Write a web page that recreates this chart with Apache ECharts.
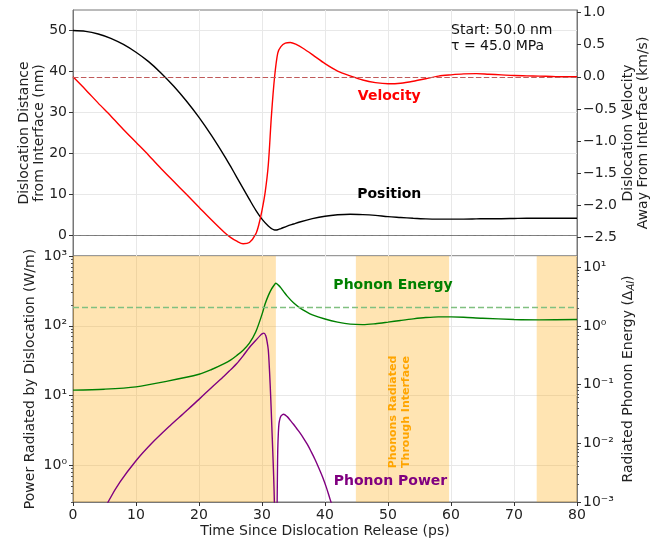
<!DOCTYPE html>
<html>
<head>
<meta charset="utf-8">
<script src="https://cdn.jsdelivr.net/npm/echarts@6/dist/echarts.min.js"></script>
<style>html,body{margin:0;padding:0;background:#fff}#main{width:663px;height:545px}</style>
</head>
<body>
<div id="main"></div>
<script>
// ---- data ----
var timePos = [0,2,4,6,8,10,12,14,16,18,20,22,24,25,26,27,28,29,30,31,31.5,32,32.5,33,34,35,36,38,40,42,44,46,48,50,52,54,56,58,60,62,64,66,68,70,72,74,76,78,80];
var position = [50,49.8,49.15,48.1,46.6,44.7,42.4,39.6,36.4,32.8,28.8,24.35,19.5,16.9,14.2,11.5,8.8,6.2,4.0,2.3,1.7,1.35,1.4,1.7,2.3,2.8,3.3,4.1,4.7,5.05,5.2,5.1,4.9,4.6,4.4,4.2,4.05,4.0,4.0,4.0,4.05,4.1,4.1,4.15,4.2,4.2,4.2,4.2,4.2];

var timeVel = [0,2,4,6,8,10,12,14,16,18,20,22,24,25,26,27,28,29,29.5,30,30.5,31,31.5,32,32.5,33,33.7,34.5,35.5,36.5,38,40,42,44,46,48,50,52,54,56,58,60,62,64,66,68,70,72,74,76,78,80];
var velocity = [0,-0.20,-0.41,-0.61,-0.82,-1.02,-1.22,-1.43,-1.63,-1.83,-2.03,-2.23,-2.42,-2.50,-2.56,-2.60,-2.58,-2.45,-2.30,-2.08,-1.80,-1.37,-0.60,0.0,0.37,0.47,0.525,0.535,0.50,0.445,0.345,0.205,0.09,0.015,-0.05,-0.09,-0.108,-0.10,-0.07,-0.03,0.01,0.03,0.045,0.05,0.04,0.03,0.02,0.015,0.01,0.005,0,0];

var timeEnergy = [0,5,10,15,20,22,24,25,26,27,28,29,30,30.5,31,31.5,32,32.2,32.6,33,33.5,34,35,36,37,38,40,42,44,46,48,50,52,54,56,58,60,62,65,70,74,80];
var energy = [0.081,0.084,0.092,0.115,0.151,0.182,0.229,0.263,0.316,0.389,0.513,0.794,1.585,2.40,3.31,4.27,5.13,5.37,5.0,4.5,3.8,3.25,2.5,2.05,1.76,1.55,1.32,1.17,1.08,1.06,1.10,1.17,1.25,1.33,1.40,1.44,1.44,1.42,1.36,1.30,1.28,1.30];

var timePower = [4,5.7,7.5,10,12.5,15.4,17.5,20,22,24,25,26,27,28,29,29.7,30.0,30.3,30.6,30.8,31.0,31.2,31.4,31.55,31.7,31.85,31.96,32.1,32.25,32.35,32.45,32.5,32.6,32.7,32.85,33.0,33.2,33.4,34.0,34.5,35.0,35.5,36.0,36.6,37.2,37.8,38.4,39.0,39.6,40.2,40.8,41.3];
var power = [0.15,0.315,0.586,1.17,2.08,3.72,5.52,8.85,13.1,19.1,23.4,28.8,37.2,49.0,61.7,72.4,76.5,78.6,72,60,45,22,8.7,3.8,1.67,0.7,0.31,0.05,0.02,0.1,0.8,1.67,3.0,4.0,4.7,5.1,5.3,5.43,5.01,4.42,3.89,3.39,2.95,2.45,2.0,1.58,1.23,0.93,0.69,0.49,0.33,0.24];

var energyRef = 2.07;          // dashed green line
var shadeStart = [0, 44.9, 73.6];
var shadeEnd = [32.2, 59.7, 80];

var posTicks = [0,10,20,30,40,50];
var velTicks = [-2.5,-2.0,-1.5,-1.0,-0.5,0.0,0.5,1.0];
var powerTicks = [1,10,100,1000];
var energyTicks = [0.001,0.01,0.1,1,10];

function zip(a, b) { return a.map(function (v, i) { return [v, b[i]]; }); }
function minors(lo, hi) {
    var out = [];
    for (var d = -4; d <= 3; d++) {
        for (var k = 2; k <= 9; k++) {
            var v = k * Math.pow(10, d);
            if (v > lo && v < hi) out.push(v);
        }
    }
    return out;
}
var supMap = {'-': '\u207B', '0': '\u2070', '1': '\u00B9', '2': '\u00B2', '3': '\u00B3'};
function logLabel(v) {
    var e = Math.round(Math.log10(v));
    return '10' + String(e).split('').map(function (c) { return supMap[c]; }).join('');
}

var FONT = '"DejaVu Sans", sans-serif';
var spine = '#777';
var gridColor = '#e8e8e8';

var dom = document.getElementById('main');
var chart = echarts.init(dom);

var baseLabel = {fontFamily: FONT, fontSize: 14, color: '#222'};
var nameStyle = {fontFamily: FONT, fontSize: 14, color: '#222', lineHeight: 15};

option = {
    animation: false,
    textStyle: {fontFamily: FONT},
    grid: [
        {left: 73, top: 10, width: 504, height: 246, show: true, borderColor: spine, borderWidth: 1, backgroundColor: 'transparent', outerBoundsMode: 'none'},
        {left: 73, top: 256, width: 504, height: 246, show: true, borderColor: spine, borderWidth: 1, backgroundColor: 'transparent', outerBoundsMode: 'none'}
    ],
    xAxis: [
        {
            gridIndex: 0, type: 'value', min: 0, max: 80, interval: 10,
            axisLine: {lineStyle: {color: spine}},
            axisTick: {show: false},
            axisLabel: {show: false},
            splitLine: {show: true, lineStyle: {color: gridColor}}
        },
        {
            gridIndex: 1, type: 'value', min: 0, max: 80, interval: 10,
            name: 'Time Since Dislocation Release (ps)',
            nameLocation: 'middle', nameGap: 22, nameTextStyle: nameStyle, nameMoveOverlap: false,
            axisLine: {lineStyle: {color: spine}},
            axisTick: {length: 4, lineStyle: {color: '#333'}},
            axisLabel: Object.assign({margin: 6}, baseLabel),
            splitLine: {show: true, lineStyle: {color: gridColor}}
        }
    ],
    yAxis: [
        {
            gridIndex: 0, type: 'value', position: 'left', min: -5, max: 55,
            name: 'Dislocation Distance\nfrom Interface (nm)',
            nameLocation: 'middle', nameRotate: 90, nameGap: 26, nameTextStyle: nameStyle, nameMoveOverlap: false,
            axisLine: {show: true, lineStyle: {color: spine}},
            axisTick: {show: true, length: 4, customValues: posTicks, lineStyle: {color: '#333'}},
            axisLabel: Object.assign({margin: 6, customValues: posTicks}, baseLabel),
            splitLine: {show: true, lineStyle: {color: gridColor}}
        },
        {
            gridIndex: 0, type: 'value', position: 'right', min: -2.79, max: 1.04,
            name: 'Dislocation Velocity\nAway From Interface (km/s)',
            nameLocation: 'middle', nameRotate: 90, nameGap: 44, nameTextStyle: nameStyle, nameMoveOverlap: false,
            axisLine: {show: true, lineStyle: {color: spine}},
            axisTick: {show: true, length: 4, customValues: velTicks, lineStyle: {color: '#333'}},
            axisLabel: Object.assign({margin: 6, customValues: velTicks, formatter: function (v) {
                return v.toFixed(1).replace('-', '\u2212');
            }}, baseLabel),
            splitLine: {show: false}
        },
        {
            gridIndex: 1, type: 'log', logBase: 10, position: 'left', min: 0.3, max: 1000,
            name: 'Power Radiated by Dislocation (W/m)',
            nameLocation: 'middle', nameRotate: 90, nameGap: 35, nameTextStyle: nameStyle, nameMoveOverlap: false,
            axisLine: {show: true, lineStyle: {color: spine}},
            axisTick: {show: true, length: 4, customValues: powerTicks, lineStyle: {color: '#333'}},
            axisLabel: Object.assign({margin: 6, customValues: powerTicks, formatter: logLabel}, baseLabel),
            splitLine: {show: true, lineStyle: {color: gridColor}}
        },
        {
            gridIndex: 1, type: 'log', logBase: 10, position: 'right', min: 0.001, max: 15.7,
            name: 'Radiated Phonon Energy (\u0394{sub|Al})',
            nameLocation: 'middle', nameRotate: 90, nameGap: 44, nameMoveOverlap: false,
            nameTextStyle: Object.assign({rich: {sub: {fontFamily: FONT, fontSize: 10, fontStyle: 'italic', color: '#222', verticalAlign: 'bottom', padding: [6, 0, 0, 0]}}}, nameStyle),
            axisLine: {show: true, lineStyle: {color: spine}},
            axisTick: {show: true, length: 4, customValues: energyTicks, lineStyle: {color: '#333'}},
            axisLabel: Object.assign({margin: 6, customValues: energyTicks, formatter: logLabel}, baseLabel),
            splitLine: {show: false}
        },
        {
            gridIndex: 1, type: 'log', logBase: 10, position: 'left', min: 0.3, max: 1000,
            axisLine: {show: false}, axisLabel: {show: false}, splitLine: {show: false},
            axisTick: {show: true, length: 2, customValues: minors(0.3, 1000), lineStyle: {color: '#555'}}
        },
        {
            gridIndex: 1, type: 'log', logBase: 10, position: 'right', min: 0.001, max: 15.7,
            axisLine: {show: false}, axisLabel: {show: false}, splitLine: {show: false},
            axisTick: {show: true, length: 2, customValues: minors(0.001, 15.7), lineStyle: {color: '#555'}}
        }
    ],
    series: [
        {
            name: 'Position', type: 'line', xAxisIndex: 0, yAxisIndex: 0,
            data: zip(timePos, position), showSymbol: false, smooth: 0.3,
            lineStyle: {color: '#000', width: 1.4},
            markLine: {
                silent: true, symbol: 'none', label: {show: false},
                lineStyle: {color: '#808080', type: [5.5, 2.4], width: 1.2},
                data: [{yAxis: 0}]
            }
        },
        {
            name: 'Velocity', type: 'line', xAxisIndex: 0, yAxisIndex: 1,
            data: zip(timeVel, velocity), showSymbol: false, smooth: 0.3,
            lineStyle: {color: '#ff0000', width: 1.4},
            markLine: {
                silent: true, symbol: 'none', label: {show: false},
                lineStyle: {color: '#c05a5a', type: [5.5, 2.4], width: 1.2},
                data: [{yAxis: 0}]
            }
        },
        {
            name: 'Phonon Power', type: 'line', xAxisIndex: 1, yAxisIndex: 2,
            data: zip(timePower, power), showSymbol: false, smooth: 0.3,
            lineStyle: {color: '#800080', width: 1.4},
            markArea: {
                silent: true,
                itemStyle: {color: 'rgba(255,165,0,0.3)'},
                data: shadeStart.map(function (s, i) { return [{xAxis: s}, {xAxis: shadeEnd[i]}]; })
            }
        },
        {
            name: 'Phonon Energy', type: 'line', xAxisIndex: 1, yAxisIndex: 3,
            data: zip(timeEnergy, energy), showSymbol: false, smooth: 0.3,
            lineStyle: {color: '#008000', width: 1.4},
            markLine: {
                silent: true, symbol: 'none', label: {show: false},
                lineStyle: {color: '#80c080', type: [6, 3], width: 1.4},
                data: [{yAxis: energyRef}]
            }
        }
    ]
};

chart.setOption(option, true);

// annotations placed in data coordinates
function px(xi, yi, pt) { return chart.convertToPixel({xAxisIndex: xi, yAxisIndex: yi}, pt); }
var pVel = px(0, 0, [50.2, 33.9]);
var pPos = px(0, 0, [50.2, 10.0]);
var pStart = px(0, 0, [60.0, 52.0]);
var pEn = px(1, 3, [50.8, 5.0]);
var pPow = px(1, 2, [50.4, 0.586]);
var pVert = px(1, 2, [51.9, 5.85]);

function boldText(p, txt, color) {
    return {type: 'text', x: p[0], y: p[1], silent: true, z: 100,
        style: {text: txt, fill: color, font: 'bold 14px ' + FONT, align: 'center', verticalAlign: 'middle'}};
}

chart.setOption({
    graphic: [
        boldText(pVel, 'Velocity', '#ff0000'),
        boldText(pPos, 'Position', '#000000'),
        boldText(pEn, 'Phonon Energy', '#008000'),
        boldText(pPow, 'Phonon Power', '#800080'),
        {type: 'text', x: pStart[0], y: pStart[1], silent: true, z: 100,
            style: {text: 'Start: 50.0 nm\n\u03C4 = 45.0 MPa', fill: '#111', font: '14px ' + FONT, lineHeight: 16, align: 'left', verticalAlign: 'top'}},
        {type: 'text', x: pVert[0], y: pVert[1], rotation: Math.PI / 2, silent: true, z: 100,
            style: {text: 'Phonons Radiated\nThrough Interface', fill: '#ffa500', font: 'bold 11px ' + FONT, lineHeight: 13, align: 'center', verticalAlign: 'middle'}}
    ]
});
</script>
</body>
</html>
